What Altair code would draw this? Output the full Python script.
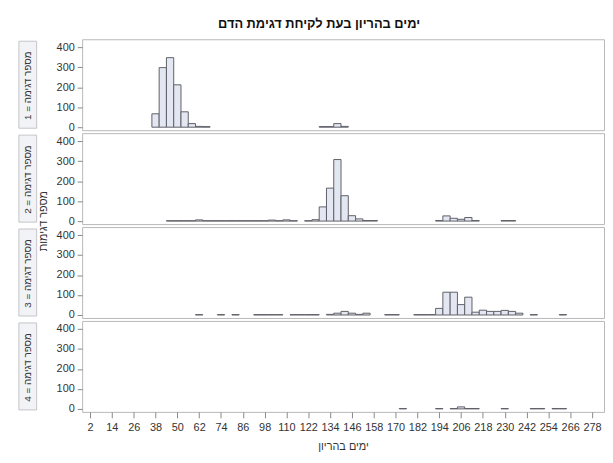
import altair as alt
import pandas as pd

# ---- data (bin midpoints, bin width 4 days) ----
panel_ids = [1, 2, 3, 4]

mid1 = [38, 42, 46, 50, 54, 58, 62, 66, 130, 134, 138, 142]
cnt1 = [67, 298, 348, 212, 77, 18, 4, 3, 3, 3, 18, 4]

mid2 = [46, 50, 54, 58, 62, 66, 70, 74, 78, 82, 86, 90, 94, 98, 102, 106, 110, 114,
        122, 126, 130, 134, 138, 142, 146, 150, 154, 158,
        194, 198, 202, 206, 210, 214, 230, 234]
cnt2 = [2, 2, 2, 2, 6, 2, 2, 2, 2, 2, 2, 2, 2, 2, 5, 2, 6, 2,
        2, 7, 71, 165, 308, 127, 27, 11, 3, 3,
        3, 26, 14, 9, 18, 3, 3, 3]

mid3 = [62, 74, 82, 94, 98, 102, 106, 114, 118, 122, 126,
        134, 138, 142, 146, 150, 154, 166, 170, 182, 186, 190,
        194, 198, 202, 206, 210, 214, 218, 222, 226, 230, 234, 238, 246, 262]
cnt3 = [2, 2, 2, 2, 2, 2, 2, 2, 2, 2, 2,
        3, 9, 18, 9, 3, 9, 2, 2, 2, 2, 2,
        33, 114, 114, 52, 89, 14, 24, 18, 18, 23, 18, 9, 2, 2]

mid4 = [174, 194, 202, 206, 210, 214, 230, 246, 250, 258, 262]
cnt4 = [2, 2, 2, 10, 2, 2, 2, 2, 2, 2, 2]

x_ticks = [2, 14, 26, 38, 50, 62, 74, 86, 98, 110, 122, 134, 146, 158, 170,
           182, 194, 206, 218, 230, 242, 254, 266, 278]
y_ticks = [0, 100, 200, 300, 400]

chart_title = "ימים בהריון בעת לקיחת דגימת הדם"
x_title = "ימים בהריון"
y_title = "מספר דגימות"
panel_word = "מספר דגימה"

rows = []
for p, m, c in zip(panel_ids, [mid1, mid2, mid3, mid4], [cnt1, cnt2, cnt3, cnt4]):
    for mm, cc in zip(m, c):
        rows.append({"panel": p, "mid": mm, "count": cc, "label": f"{p} = {panel_word}"})
df = pd.DataFrame(rows)

FONT = "Liberation Sans"
W, H = 528, 92

x_scale = alt.Scale(domain=[-2.35, 284.6], nice=False, zero=False)
y_scale = alt.Scale(domain=[-15, 440], nice=False, zero=False)


def make_panel(p, show_x):
    if show_x:
        x_axis = alt.Axis(values=x_ticks, title=x_title, titlePadding=8, labelPadding=4,
                          tickSize=6)
    else:
        x_axis = None
    bars = alt.Chart().transform_calculate(
        lo="datum.mid - 2", hi="datum.mid + 2", base="0"
    ).mark_bar(fill="#e3e7f1", stroke="#606068", strokeWidth=1).encode(
        x=alt.X("lo:Q", scale=x_scale, axis=x_axis),
        x2="hi:Q",
        y=alt.Y("count:Q", scale=y_scale,
                axis=alt.Axis(values=y_ticks, title=None, labelPadding=3)),
        y2="base:Q",
    )
    box = alt.Chart().transform_aggregate(
        n="count()", groupby=["panel", "label"]
    ).mark_rect(fill="#f2f3f7", stroke="#c4c4c8", strokeWidth=1).encode(
        x=alt.value(-64), x2=alt.value(-46), y=alt.value(2), y2=alt.value(H - 2)
    )
    header_text = alt.Chart().transform_aggregate(
        n="count()", groupby=["panel", "label"]
    ).mark_text(angle=270, font=FONT, fontSize=10, color="#333333",
                align="center", baseline="middle").encode(
        x=alt.value(-55), y=alt.value(H / 2 + 1), text="label:N"
    )
    layers = [bars, box, header_text]
    if p == 2:
        ytitle = alt.Chart().transform_aggregate(
            n="count()", groupby=["panel"]
        ).mark_text(angle=270, font=FONT, fontSize=11, color="#333333",
                    align="center", baseline="middle", text=y_title).encode(
            x=alt.value(-39), y=alt.value(H - 3)
        )
        layers.append(ytitle)
    return alt.layer(*layers, data=df).transform_filter(
        f"datum.panel == {p}"
    ).properties(width=W, height=H)


panels = [make_panel(p, p == panel_ids[-1]) for p in panel_ids]

chart = alt.vconcat(*panels, spacing=3, bounds="flush").properties(
    title=alt.TitleParams(text=chart_title, font=FONT, fontSize=13, fontWeight="bold",
                          color="#111111", anchor="middle", offset=8, dx=8),
    padding={"left": 10, "top": 7, "right": 0, "bottom": 0},
).configure_view(
    stroke="#b8b8b8", strokeWidth=1
).configure_axis(
    labelFont=FONT, titleFont=FONT, labelFontSize=11, titleFontSize=11,
    labelColor="#333333", titleColor="#333333", titleFontWeight="normal",
    tickColor="#888888", tickSize=5, domain=False, grid=False,
)

chart.save("out.html", embed_options={"renderer": "svg", "actions": False})
